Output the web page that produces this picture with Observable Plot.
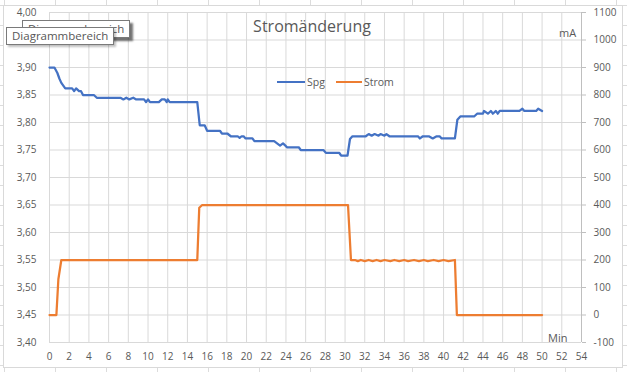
<!DOCTYPE html>
<html>
<head>
<meta charset="utf-8">
<script src="https://cdn.jsdelivr.net/npm/d3@7"></script>
<script src="https://cdn.jsdelivr.net/npm/@observablehq/plot@0.6"></script>
<style>
  html, body { margin: 0; padding: 0; }
  body {
    width: 627px; height: 372px; position: relative; overflow: hidden;
    background-color: #fff;
    background-image:
      linear-gradient(to right, #dcdcdc 1px, transparent 1px),
      linear-gradient(to bottom, #dcdcdc 1px, transparent 1px);
    background-size: 51px 20px, 51px 20px;
    background-position: 4px 5px, 0 5px;
    font-family: "Open Sans", sans-serif;
  }
  #chartbox { position: absolute; left: 3px; top: 5px; width: 618px; height: 361px; background: #fff; border: 1px solid #d9d9d9; }
  #plot { position: absolute; left: 0; top: 0; }
  .ov { position: absolute; color: #595959; white-space: nowrap; }
  #title { left: 312px; top: 26px; transform: translate(-50%, -50%); font-size: 16px; }
  .leg { position: absolute; top: 82px; height: 0; border-top: 2.5px solid; transform: translateY(-1px); }
  .legt { top: 82px; transform: translateY(-50%); font-size: 10.5px; }
  .tip { position: absolute; background: #fff; border: 1px solid #7a7a7a; font-size: 11.5px; color: #575757; padding: 0 5px; line-height: 16px; height: 16px; font-family: "Open Sans", sans-serif; }
</style>
</head>
<body>
<div id="chartbox"></div>
<div id="plot"></div>
<div class="ov" id="title">Stromänderung</div>
<div class="leg" style="left:277px;width:28px;border-color:#4472C4"></div>
<div class="ov legt" style="left:307px">Spg</div>
<div class="leg" style="left:336px;width:26px;border-color:#ED7D31"></div>
<div class="ov legt" style="left:364px">Strom</div>
<div class="ov" style="left:559px;top:32px;transform:translateY(-50%);font-size:11px">mA</div>
<div class="ov" style="left:548px;top:337px;transform:translateY(-50%);font-size:11px">Min</div>
<div class="tip" style="left:22px;top:20px;box-shadow:3px 3px 2px rgba(0,0,0,0.55)">Diagrammbereich</div>
<div class="tip" style="left:6px;top:27px;box-shadow:2px 2px 2px rgba(0,0,0,0.25)">Diagrammbereich</div>
<script>
// ---- data ----
const spgTime = [0, 0.5, 0.8, 1.0, 1.2, 1.6, 2.3, 2.5, 2.7, 3.0, 3.2, 3.4, 4.5, 4.8, 7.2, 7.5, 7.8, 8.1, 8.5, 8.8,
  9.6, 9.8, 10.0, 10.2, 11.1, 11.4, 11.7, 11.9, 12.0, 12.2, 15.0, 15.25, 15.75, 16.0, 17.3, 17.5, 18.05, 18.4,
  19.1, 19.3, 19.5, 19.7, 19.9, 20.6, 20.8, 22.8, 23.1, 23.4, 23.7, 24.0, 24.1, 25.3, 25.5, 27.8, 28.05, 29.4,
  29.6, 30.25, 30.5, 30.75, 32.1, 32.4, 32.7, 33.0, 33.4, 33.6, 34.0, 34.2, 34.5, 37.4, 37.6, 37.9, 38.5, 38.9,
  39.3, 39.6, 39.8, 41.15, 41.4, 41.7, 43.1, 43.4, 44.0, 44.1, 44.5, 44.8, 45.0, 45.3, 45.5, 45.7, 47.7, 48.0,
  48.2, 49.4, 49.6, 50.0];
const spgVolt = [3.900, 3.900, 3.890, 3.880, 3.872, 3.862, 3.862, 3.857, 3.862, 3.857, 3.857, 3.850, 3.850, 3.845,
  3.845, 3.842, 3.845, 3.842, 3.845, 3.842, 3.842, 3.837, 3.842, 3.837, 3.837, 3.842, 3.842, 3.837, 3.842, 3.837,
  3.837, 3.795, 3.795, 3.785, 3.785, 3.780, 3.780, 3.775, 3.775, 3.772, 3.775, 3.775, 3.771, 3.771, 3.766, 3.766,
  3.762, 3.758, 3.762, 3.757, 3.755, 3.755, 3.750, 3.750, 3.745, 3.745, 3.740, 3.740, 3.770, 3.775, 3.775, 3.779,
  3.776, 3.779, 3.776, 3.779, 3.776, 3.779, 3.775, 3.775, 3.771, 3.775, 3.775, 3.771, 3.775, 3.775, 3.771, 3.771,
  3.805, 3.811, 3.811, 3.816, 3.816, 3.821, 3.816, 3.821, 3.816, 3.821, 3.816, 3.821, 3.821, 3.825, 3.821, 3.821,
  3.825, 3.821];

const stromTime = [0, 0.7, 0.9, 1.2, 15.0, 15.2, 15.5, 30.3, 30.6, 31.0, 31.3, 31.6, 32.0, 32.4, 32.8, 33.2, 33.6,
  34.0, 34.6, 35.0, 35.5, 36.0, 36.4, 37.0, 37.5, 38.0, 38.4, 39.0, 39.5, 40.0, 40.5, 41.15, 41.35, 50.0];
const stromMA = [0, 0, 130, 200, 200, 390, 400, 400, 200, 200, 196, 200, 196, 200, 196, 200, 196,
  200, 196, 200, 196, 200, 196, 200, 196, 200, 196, 200, 196, 200, 196, 200, 0, 0];

const xTicks = [0, 2, 4, 6, 8, 10, 12, 14, 16, 18, 20, 22, 24, 26, 28, 30, 32, 34, 36, 38, 40, 42, 44, 46, 48, 50, 52, 54];
const voltTicks = [3.40, 3.45, 3.50, 3.55, 3.60, 3.65, 3.70, 3.75, 3.80, 3.85, 3.90, 3.95, 4.00];
const mATicks = [-100, 0, 100, 200, 300, 400, 500, 600, 700, 800, 900, 1000, 1100];

// secondary axis mapping: -100 mA <-> 3.40 V, 1100 mA <-> 4.00 V
const mAtoV = ma => 3.45 + ma / 2000;
const vToMA = v => Math.round((v - 3.45) * 2000);

const spgData = spgTime.map((t, i) => ({t, v: spgVolt[i]}));
const stromData = stromTime.map((t, i) => ({t, v: mAtoV(stromMA[i])}));

const grid = "#d9d9d9";
const chart = Plot.plot({
  width: 627,
  height: 372,
  marginLeft: 49,
  marginRight: 46,
  marginTop: 12,
  marginBottom: 30,
  style: {background: "transparent", fontFamily: "'Open Sans', sans-serif", fontSize: "10px", color: "#595959", overflow: "visible"},
  x: {domain: [0, 54]},
  y: {domain: [3.40, 4.00]},
  marks: [
    Plot.gridX(xTicks, {stroke: grid, strokeOpacity: 1}),
    Plot.gridY(voltTicks, {stroke: grid, strokeOpacity: 1}),
    Plot.axisX(xTicks, {tickSize: 0, tickPadding: 10, label: null, tickFormat: d => String(d)}),
    Plot.axisY(voltTicks, {anchor: "left", tickSize: 0, tickPadding: 13, label: null,
      tickFormat: d => d.toFixed(2).replace(".", ",")}),
    Plot.axisY(mATicks.map(mAtoV), {anchor: "right", tickSize: 4, tickPadding: 8, label: null,
      stroke: "#bfbfbf", fill: "#595959", tickFormat: d => String(vToMA(d))}),
    Plot.ruleX([54], {stroke: "#bfbfbf"}),
    Plot.line(stromData, {x: "t", y: "v", stroke: "#ED7D31", strokeWidth: 2.25}),
    Plot.line(spgData, {x: "t", y: "v", stroke: "#4472C4", strokeWidth: 2.25})
  ]
});
document.getElementById("plot").appendChild(chart);
</script>
</body>
</html>
